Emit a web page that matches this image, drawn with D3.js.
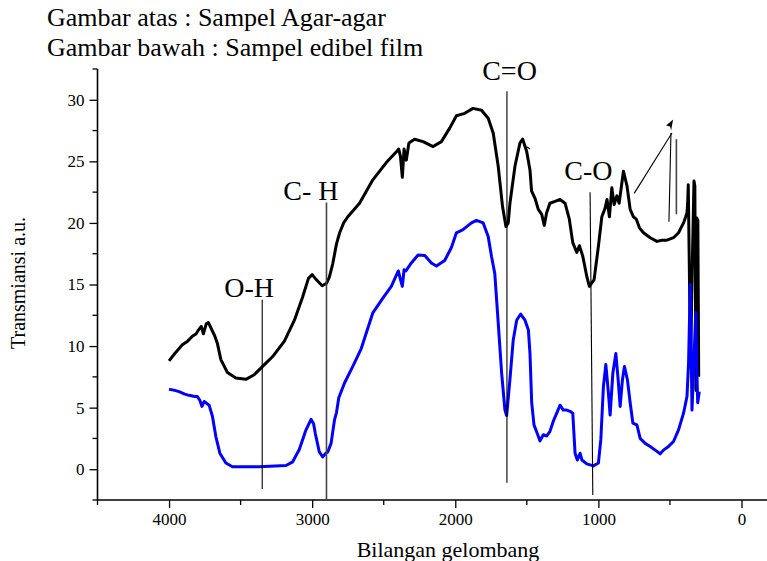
<!DOCTYPE html>
<html>
<head>
<meta charset="utf-8">
<script src="https://cdn.jsdelivr.net/npm/d3@7"></script>
<style>
  body { margin: 0; background: #fff; }
  svg { display: block; font-family: "Liberation Serif", "Times New Roman", serif; }
  .axis text { font-family: "Liberation Serif", serif; }
</style>
</head>
<body>
<div id="chart"></div>
<script>
// wavenumber (cm-1) and transmission
var blackWn = [4000, 3960, 3907, 3870, 3837, 3810, 3795, 3775, 3760, 3740, 3725, 3700, 3680, 3662, 3638, 3592, 3533, 3463, 3405, 3346,
  3276, 3194, 3124, 3066, 3026, 3000, 2972, 2930, 2900, 2880, 2856, 2830, 2808, 2780, 2751, 2669, 2576, 2482, 2410, 2395,
  2383, 2370, 2358, 2342, 2324, 2284, 2225, 2155, 2097, 2039, 1992, 1934, 1876, 1817, 1770, 1735, 1700, 1670, 1646, 1630,
  1618, 1583, 1548, 1529, 1501, 1478, 1467, 1443, 1420, 1396, 1378, 1362, 1339, 1303, 1268, 1233, 1203, 1179, 1151, 1133,
  1109, 1081, 1063, 1030, 1000, 976, 953, 940, 923, 906, 890, 871, 855, 825, 800, 778, 755, 735, 713, 685,
  638, 591, 556, 521, 475, 440, 405, 381, 376, 372, 362, 355, 345, 332, 326, 318, 312, 305, 299];
var blackT = [8.8, 9.4, 10.1, 10.4, 10.8, 11.0, 11.3, 11.6, 11.0, 11.8, 11.9, 11.3, 10.8, 10.2, 8.9, 7.85, 7.4, 7.3, 7.67, 8.35,
  9.15, 10.4, 12.1, 14.0, 15.5, 15.8, 15.4, 14.9, 15.1, 15.6, 16.7, 18.3, 19.2, 20.0, 20.5, 21.6, 23.5, 24.9, 25.8, 26.0,
  25.4, 23.7, 26.0, 25.1, 26.5, 26.8, 26.6, 26.2, 26.6, 27.7, 28.7, 28.9, 29.3, 29.15, 28.5, 27.3, 24.6, 21.35, 19.7, 20.0,
  21.6, 24.6, 26.5, 26.8, 25.8, 24.3, 22.6, 22.0, 21.1, 20.7, 19.8, 20.8, 21.6, 21.75, 21.9, 21.6, 20.3, 18.4, 17.6, 18.15,
  17.3, 15.65, 14.85, 15.4, 18.1, 20.5, 21.2, 21.9, 20.5, 22.85, 21.5, 22.2, 21.6, 24.2, 23.0, 21.1, 20.5, 20.3, 19.6, 19.2,
  18.8, 18.5, 18.6, 18.6, 18.8, 19.2, 20.0, 20.8, 21.6, 23.1, 14.0, 9.2, 16.0, 23.4, 23.0, 6.4, 20.4, 20.2, 7.5];

var blueWn = [4000, 3960, 3930, 3890, 3860, 3820, 3802, 3785, 3770, 3755, 3743, 3720, 3697, 3673, 3645, 3603, 3557, 3450, 3370, 3183,
  3136, 3090, 3043, 3008, 2990, 2978, 2950, 2926, 2905, 2891, 2868, 2844, 2830, 2814, 2774, 2716, 2657, 2576, 2506, 2447,
  2398, 2385, 2370, 2358, 2345, 2307, 2260, 2213, 2167, 2132, 2074, 2027, 1992, 1946, 1887, 1852, 1805, 1770, 1747, 1724,
  1700, 1676, 1653, 1641, 1618, 1595, 1571, 1543, 1513, 1489, 1478, 1466, 1450, 1427, 1408, 1385, 1362, 1339, 1315, 1291,
  1268, 1245, 1221, 1198, 1179, 1163, 1147, 1128, 1115, 1081, 1035, 1000, 983, 965, 948, 930, 918, 899, 878, 860,
  848, 832, 818, 797, 778, 759, 731, 708, 673, 638, 603, 568, 545, 510, 475, 440, 405, 381, 370, 358,
  352, 346, 335, 320, 312, 306, 295];
var blueT = [6.5, 6.4, 6.3, 6.1, 6.0, 5.9, 5.9, 5.6, 5.1, 5.5, 5.4, 5.2, 4.3, 2.65, 1.3, 0.5, 0.2, 0.2, 0.2, 0.3,
  0.6, 1.6, 3.2, 4.05, 3.7, 2.9, 1.4, 1.0, 1.3, 1.4, 2.1, 4.0, 4.6, 5.8, 7.0, 8.35, 9.8, 12.7, 13.9, 14.85,
  16.1, 15.5, 14.85, 16.2, 16.1, 16.75, 17.4, 17.35, 16.75, 16.5, 16.95, 18.0, 19.2, 19.45, 20.0, 20.2, 20.0, 18.9, 17.3, 15.9,
  11.9, 7.8, 4.8, 4.35, 7.3, 10.5, 12.1, 12.6, 12.1, 11.3, 9.4, 5.4, 3.6, 2.9, 2.3, 2.8, 2.7, 3.05, 3.9, 4.55,
  5.2, 4.8, 4.8, 4.7, 4.55, 1.3, 0.75, 1.3, 0.75, 0.43, 0.27, 0.5, 2.4, 6.7, 8.5, 6.2, 4.4, 7.8, 9.4, 7.0,
  5.1, 7.25, 8.35, 7.25, 5.4, 3.75, 3.6, 2.5, 2.1, 1.85, 1.55, 1.25, 1.55, 1.85, 2.25, 3.2, 4.55, 5.9, 8.6, 15.0,
  10.0, 4.8, 8.0, 12.7, 8.0, 5.4, 6.3];

var xTicks = [4000, 3000, 2000, 1000, 0];
var yTicks = [0, 5, 10, 15, 20, 25, 30];

var titleLines = ["Gambar atas : Sampel Agar-agar", "Gambar bawah : Sampel edibel film"];

// band labels and their marker lines (wavenumber, transmission)
var bandNames = ["O-H", "C- H", "C=O", "C-O"];
var bandLabelWn = [3440, 3009, 1621, 1070];
var bandLabelT = [14.0, 21.85, 31.57, 23.5];
var bandTopWn = [3349, 2900, 1639, 1058];
var bandTopT = [13.77, 21.65, 30.7, 22.5];
var bandBotWn = [3349, 2900, 1639, 1039];
var bandBotT = [-1.6, -2.5, -1.1, -2.1];

var width = 767, height = 561;

var svg = d3.select("#chart").append("svg")
    .attr("width", width)
    .attr("height", height);

var x = d3.scaleLinear().domain([4500, 0]).range([97.5, 741.5]);
var y = d3.scaleLinear().domain([-2.5, 32.5]).range([500, 69]);

// title
svg.selectAll(".title")
    .data(titleLines)
    .enter().append("text")
    .attr("class", "title")
    .attr("x", 47)
    .attr("y", function(d, i) { return 26 + i * 30; })
    .style("font-size", "26px")
    .text(function(d) { return d; });

// axes
var xAxis = d3.axisBottom(x).tickValues(xTicks).tickSize(8).tickPadding(5).tickFormat(d3.format("d"));
var yAxis = d3.axisLeft(y).tickValues(yTicks).tickSize(8).tickPadding(5);

var gx = svg.append("g")
    .attr("class", "axis axis--x")
    .attr("transform", "translate(0," + y(-2.5) + ")")
    .call(xAxis);
gx.select(".domain").remove();
gx.append("line")
    .attr("x1", x(4500)).attr("x2", width)
    .attr("stroke", "#000").attr("stroke-width", 1.6);
gx.selectAll(".xminor")
    .data(d3.range(4500, -1, -500).filter(function(d) { return d % 1000 != 0; }))
    .enter().append("line")
    .attr("x1", function(d) { return x(d); }).attr("x2", function(d) { return x(d); })
    .attr("y2", 5).attr("stroke", "#000").attr("stroke-width", 1.3);

var gy = svg.append("g")
    .attr("class", "axis axis--y")
    .attr("transform", "translate(" + x(4500) + ",0)")
    .call(yAxis);
gy.select(".domain").remove();
gy.append("line")
    .attr("y1", y(32.5)).attr("y2", y(-2.5))
    .attr("stroke", "#000").attr("stroke-width", 1.6);
gy.selectAll(".yminor")
    .data(d3.range(-2.5, 33, 5))
    .enter().append("line")
    .attr("y1", function(d) { return y(d); }).attr("y2", function(d) { return y(d); })
    .attr("x2", -5).attr("stroke", "#000").attr("stroke-width", 1.3);

svg.selectAll(".axis .tick line").attr("stroke-width", 1.3);
svg.selectAll(".axis text")
    .style("font-size", "17px")
    .style("font-family", "Liberation Serif, serif")
    .attr("fill", "#000");

svg.append("text")
    .attr("x", 448).attr("y", 557)
    .attr("text-anchor", "middle")
    .style("font-size", "22px")
    .text("Bilangan gelombang");

svg.append("text")
    .attr("transform", "translate(25,283) rotate(-90)")
    .attr("text-anchor", "middle")
    .style("font-size", "20px")
    .text("Transmiansi a.u.");

// spectra
var line = d3.line()
    .x(function(d) { return x(d[0]); })
    .y(function(d) { return y(d[1]); });

svg.append("path")
    .datum(d3.zip(blackWn, blackT))
    .attr("fill", "none")
    .attr("stroke", "#000")
    .attr("stroke-width", 3)
    .attr("stroke-linejoin", "round")
    .attr("d", line);

svg.append("path")
    .datum(d3.zip(blueWn, blueT))
    .attr("fill", "none")
    .attr("stroke", "#0000ff")
    .attr("stroke-width", 3)
    .attr("stroke-linejoin", "round")
    .attr("d", line);

// band markers
var bands = svg.selectAll(".band")
    .data(bandNames)
    .enter().append("g")
    .attr("class", "band");

bands.append("line")
    .attr("x1", function(d, i) { return x(bandTopWn[i]); })
    .attr("y1", function(d, i) { return y(bandTopT[i]); })
    .attr("x2", function(d, i) { return x(bandBotWn[i]); })
    .attr("y2", function(d, i) { return y(bandBotT[i]); })
    .attr("stroke", function(d, i) { return i == 1 ? "#444" : "#000"; })
    .attr("stroke-width", function(d, i) { return i == 1 ? 1.6 : 1.1; });

bands.append("text")
    .attr("x", function(d, i) { return x(bandLabelWn[i]); })
    .attr("y", function(d, i) { return y(bandLabelT[i]); })
    .attr("text-anchor", "middle")
    .style("font-size", "28px")
    .text(function(d) { return d; });

// the little pointer lines on the right
var pointerWn = [[750, 486], [507, 493], [455, 455], [1501, 1478]];
var pointerT = [[22.4, 27.3], [20.1, 27.3], [26.8, 20.7], [26.2, 26.0]];
svg.selectAll(".pointer")
    .data(pointerWn)
    .enter().append("line")
    .attr("class", "pointer")
    .attr("x1", function(d) { return x(d[0]); })
    .attr("x2", function(d) { return x(d[1]); })
    .attr("y1", function(d, i) { return y(pointerT[i][0]); })
    .attr("y2", function(d, i) { return y(pointerT[i][1]); })
    .attr("stroke", function(d, i) { return i == 2 ? "#444" : "#000"; })
    .attr("stroke-width", function(d, i) { return i == 2 ? 1.6 : 1.1; });

var tip = [x(478), y(28.4)];
svg.append("path")
    .attr("d", "M" + tip[0] + "," + tip[1] + "L" + (tip[0] - 7) + "," + (tip[1] + 6) + "L" + (tip[0] - 3) + "," + (tip[1] + 7) + "L" + (tip[0] - 2) + "," + (tip[1] + 11) + "Z")
    .attr("fill", "#000");
</script>
</body>
</html>
